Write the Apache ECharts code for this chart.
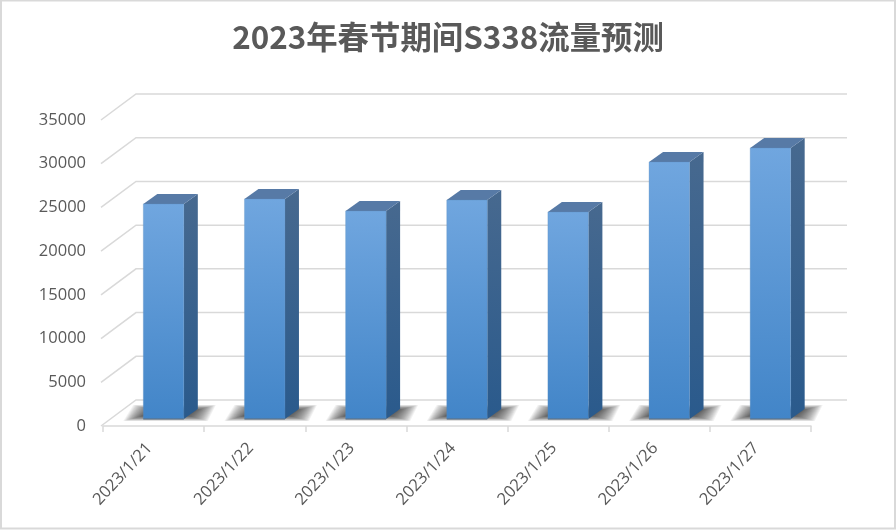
<!DOCTYPE html>
<html><head><meta charset="utf-8">
<style>html,body{margin:0;padding:0;background:#fff}#c{width:896px;height:530px}</style>
<script src="https://cdn.jsdelivr.net/npm/echarts@6/dist/echarts.min.js"></script>
</head><body><div id="c"></div>
<script>
const titleText = '2023年春节期间S338流量预测';
const categories = ['2023/1/21','2023/1/22','2023/1/23','2023/1/24','2023/1/25','2023/1/26','2023/1/27'];
const values = [24600,25170,23800,25050,23680,29400,31000];
const yTicks = [0,5000,10000,15000,20000,25000,30000,35000];

const wallDx = 33, wallDy = 26;   // depth of the plot box
const barOffX = 10, barOffY = 7;  // bars stand this far behind the front edge
const barDx = 14, barDy = 10;     // depth of each bar
const barW = 40.5;
const shadowSteps = 22;           // stacked translucent layers giving a soft floor shadow
const fontLabel = '"Open Sans","Liberation Sans",sans-serif';
const v = (t,b)=>new echarts.graphic.LinearGradient(0,0,0,1,[{offset:0,color:t},{offset:1,color:b}]);

const chart = echarts.init(document.getElementById('c'),null,{renderer:'canvas'});
chart.setOption({
  animation:false,
  backgroundColor:'#fff',
  title:{text:titleText,left:443,top:16,textAlign:'center',
    textStyle:{fontFamily:'"Noto Sans CJK SC",sans-serif',fontSize:31.4,fontWeight:'bold',color:'#595959'}},
  grid:{left:103,right:85,top:120,height:306,containLabel:false},
  xAxis:{type:'category',data:categories,
    axisLine:{lineStyle:{color:'#d9d9d9',width:1.5}},
    axisTick:{show:true,length:6,alignWithLabel:false,lineStyle:{color:'#d9d9d9',width:1.5}},
    axisLabel:{rotate:47,fontFamily:fontLabel,fontSize:16.5,color:'#595959',margin:15,padding:[0,6,0,0]},
    splitLine:{show:false}},
  yAxis:{type:'value',min:0,max:35000,interval:5000,
    axisLine:{show:false},axisTick:{show:false},splitLine:{show:false},
    axisLabel:{formatter:(x)=>String(x),fontFamily:fontLabel,fontSize:16.5,color:'#595959',margin:17,padding:[5,0,0,0]}},
  series:[
    {type:'custom',coordinateSystem:'cartesian2d',z:1,silent:true,
     data:yTicks.map((t,i)=>[i,t]),
     encode:{y:1},
     renderItem(params,api){
       const val=api.value(1), y=api.coord([0,val])[1];
       const cs=params.coordSys, x0=cs.x, x1=cs.x+cs.width;
       return {type:'polyline',shape:{points:[[x0-2,y],[x0+wallDx,y-wallDy],[x1+36,y-wallDy]]},
         style:{fill:null,stroke:'#d9d9d9',lineWidth:1.5}};
     }},
    {type:'custom',coordinateSystem:'cartesian2d',z:2,silent:true,
     data:values.map((t,i)=>[i,t]),
     encode:{x:0,y:1},
     renderItem(params,api){
       const c=api.coord([api.value(0),api.value(1)]), b=api.coord([api.value(0),0]);
       const xl=c[0]+barOffX-barW/2, xr=xl+barW, top=c[1]-barOffY, bot=b[1]-barOffY;
       const layers=[];
       for(let k=0;k<shadowSteps;k++){
         const g=k/(shadowSteps-1);            // 0 = widest, 1 = innermost
         const ex=22*(1-g), ey=6*(1-g);
         layers.push({type:'polygon',z2:1,shape:{points:[
           [xl+2-ex,bot-4+ey],[xl+12-ex,bot-8-ey],[xr+10+ex,bot-8-ey],[xr+2+ex,bot-4+ey]]},
           style:{fill:'rgba(40,40,40,.06)'}});
       }
       return {type:'group',children:layers.concat([
         {type:'polygon',z2:2,shape:{points:[[xr,top],[xr+barDx,top-barDy],[xr+barDx,bot-barDy],[xr,bot]]},
          style:{fill:v('#47698f','#2a5a8c')}},
         {type:'polygon',z2:2,shape:{points:[[xl,top],[xl+barDx,top-barDy],[xr+barDx,top-barDy],[xr,top]]},
          style:{fill:'#577aa6'}},
         {type:'rect',z2:3,shape:{x:xl,y:top,width:barW,height:bot-top},
          style:{fill:v('#70a6df','#4285c8'),stroke:'rgba(90,140,190,.6)',lineWidth:.5}},
         {type:'line',z2:4,shape:{x1:xl,y1:bot,x2:xr,y2:bot},style:{stroke:'#5f6f80',lineWidth:1}}
       ])};
     }},
    {type:'custom',coordinateSystem:'cartesian2d',z:3,silent:true,data:[[0,0]],encode:{y:1},
     renderItem(){
       return {type:'rect',shape:{x:1,y:0.5,width:894,height:528},style:{fill:null,stroke:'#d9d9d9',lineWidth:2}};
     }}
  ]
});
</script></body></html>
